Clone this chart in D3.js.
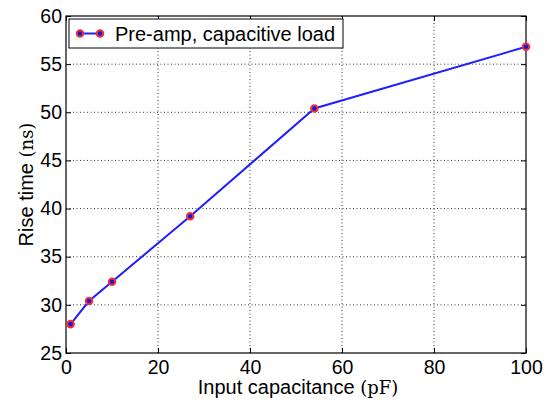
<!DOCTYPE html>
<html>
<head>
<meta charset="utf-8">
<script src="https://cdn.jsdelivr.net/npm/d3@7"></script>
<style>
  html, body { margin: 0; padding: 0; background: #fff; }
  svg { display: block; }
  .tick text { font-family: "Liberation Sans", Arial, sans-serif; font-size: 19.5px; fill: #000; }
</style>
</head>
<body>
<svg id="chart" width="554" height="408"></svg>
<script>
// Rise time of the pre-amp versus input capacitance
const capacitance = [1, 5, 10, 27, 54, 100];          // pF
const riseTime    = [28.0, 30.4, 32.4, 39.2, 50.4, 56.8]; // ns
const xTicks = [0, 20, 40, 60, 80, 100];
const yTicks = [25, 30, 35, 40, 45, 50, 55, 60];
const seriesName = "Pre-amp, capacitive load";

const svg = d3.select("#chart");
const m = { left: 66, top: 16, right: 526, bottom: 353 };

const x = d3.scaleLinear().domain([0, 100]).range([m.left, m.right]);
const y = d3.scaleLinear().domain([25, 60]).range([m.bottom, m.top]);

// dotted grid
const grid = svg.append("g");
grid.selectAll("line.gx").data(xTicks.slice(1, -1)).join("line")
  .attr("x1", d => x(d)).attr("x2", d => x(d))
  .attr("y1", m.top).attr("y2", m.bottom)
  .attr("stroke", "#000").attr("stroke-width", 0.8).attr("stroke-dasharray", "1,2.5");
grid.selectAll("line.gy").data(yTicks.slice(1, -1)).join("line")
  .attr("x1", m.left).attr("x2", m.right)
  .attr("y1", d => y(d)).attr("y2", d => y(d))
  .attr("stroke", "#000").attr("stroke-width", 0.8).attr("stroke-dasharray", "1,2.5");

// axes with inward ticks on all four sides
const tickLen = 5;
svg.append("g").attr("transform", `translate(0,${m.bottom})`)
  .call(d3.axisBottom(x).tickValues(xTicks).tickSizeInner(-tickLen).tickSizeOuter(0).tickPadding(7))
  .call(g => g.select(".domain").remove());
svg.append("g").attr("transform", `translate(0,${m.top})`)
  .call(d3.axisTop(x).tickValues(xTicks).tickSizeInner(-tickLen).tickSizeOuter(0).tickFormat(""))
  .call(g => g.select(".domain").remove());
svg.append("g").attr("transform", `translate(${m.left},0)`)
  .call(d3.axisLeft(y).tickValues(yTicks).tickSizeInner(-tickLen).tickSizeOuter(0).tickPadding(4))
  .call(g => g.select(".domain").remove());
svg.append("g").attr("transform", `translate(${m.right},0)`)
  .call(d3.axisRight(y).tickValues(yTicks).tickSizeInner(-tickLen).tickSizeOuter(0).tickFormat(""))
  .call(g => g.select(".domain").remove());
svg.selectAll(".tick line").attr("stroke", "#000").attr("stroke-width", 1);
svg.selectAll(".tick text").attr("fill", "#000");

svg.append("rect")
  .attr("x", m.left).attr("y", m.top)
  .attr("width", m.right - m.left).attr("height", m.bottom - m.top)
  .attr("fill", "none").attr("stroke", "#000").attr("stroke-width", 1.2);

// series line and markers
const pts = capacitance.map((c, i) => [c, riseTime[i]]);
svg.append("path")
  .datum(pts)
  .attr("d", d3.line().x(d => x(d[0])).y(d => y(d[1])))
  .attr("fill", "none").attr("stroke", "#1f1fff").attr("stroke-width", 2);
svg.append("g").selectAll("circle").data(pts).join("circle")
  .attr("cx", d => x(d[0])).attr("cy", d => y(d[1])).attr("r", 3.3)
  .attr("fill", "#1a1acc").attr("stroke", "#f0303a").attr("stroke-width", 2);

// axis labels
svg.append("text")
  .attr("x", 298).attr("y", 394)
  .attr("text-anchor", "middle")
  .attr("font-family", "Liberation Sans, Arial, sans-serif").attr("font-size", 20)
  .call(t => {
    t.append("tspan").text("Input capacitance ");
    t.append("tspan").attr("font-family", "DejaVu Serif, serif").attr("font-size", 18).text("(pF)");
  });
svg.append("text")
  .attr("transform", `translate(33,${(m.top + m.bottom) / 2}) rotate(-90)`)
  .attr("text-anchor", "middle")
  .attr("font-family", "Liberation Sans, Arial, sans-serif").attr("font-size", 20)
  .call(t => {
    t.append("tspan").text("Rise time ");
    t.append("tspan").attr("font-family", "DejaVu Serif, serif").attr("font-size", 18).text("(ns)");
  });

// legend
const leg = svg.append("g");
leg.append("rect").attr("x", 69).attr("y", 19).attr("width", 274).attr("height", 29)
  .attr("fill", "#fff").attr("stroke", "#000").attr("stroke-width", 1);
leg.append("line").attr("x1", 80).attr("x2", 100).attr("y1", 33.5).attr("y2", 33.5)
  .attr("stroke", "#1f1fff").attr("stroke-width", 2);
leg.selectAll("circle").data([80, 100]).join("circle")
  .attr("cx", d => d).attr("cy", 33.5).attr("r", 3.3)
  .attr("fill", "#1a1acc").attr("stroke", "#f0303a").attr("stroke-width", 2);
leg.append("text").attr("x", 115).attr("y", 40.5)
  .attr("font-family", "Liberation Sans, Arial, sans-serif").attr("font-size", 20)
  .text(seriesName);
</script>
</body>
</html>
